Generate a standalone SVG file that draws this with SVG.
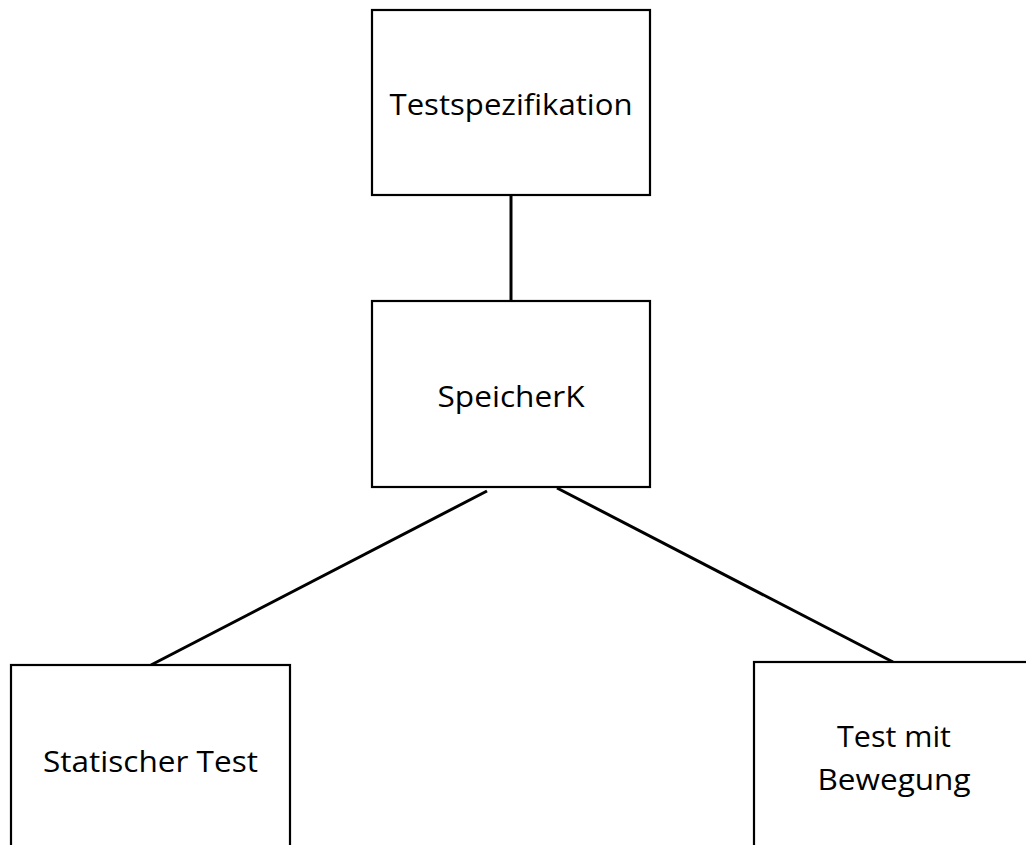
<svg xmlns="http://www.w3.org/2000/svg" width="1026" height="845" viewBox="0 0 1026 845">
  <style>
    .box { fill: #ffffff; stroke: #000000; stroke-width: 2.2; }
    .edge { stroke: #000000; stroke-width: 3; fill: none; }
    .label { font-family: "Open Sans", "Noto Sans", sans-serif; font-size: 30px; fill: #000000; text-anchor: middle; }
  </style>
  <rect x="0" y="0" width="1026" height="845" fill="#ffffff"/>

  <!-- connectors -->
  <g id="connectors">
    <line class="edge" x1="511" y1="196" x2="511" y2="301"/>
    <line class="edge" x1="487" y1="491" x2="151" y2="665"/>
    <line class="edge" x1="557" y1="488" x2="893" y2="662"/>
  </g>

  <g id="node-testspezifikation">
    <rect class="box" x="372" y="10" width="278" height="185"/>
    <text class="label" x="511" y="115" textLength="243" lengthAdjust="spacingAndGlyphs">Testspezifikation</text>
  </g>

  <g id="node-speicherk">
    <rect class="box" x="372" y="301" width="278" height="186"/>
    <text class="label" x="511" y="407" textLength="147" lengthAdjust="spacingAndGlyphs">SpeicherK</text>
  </g>

  <g id="node-statisch">
    <rect class="box" x="11" y="665" width="279" height="200"/>
    <text class="label" x="150.5" y="772" textLength="215" lengthAdjust="spacingAndGlyphs">Statischer Test</text>
  </g>

  <g id="node-bewegung">
    <rect class="box" x="754" y="662" width="300" height="200"/>
    <text class="label" x="894" y="747" textLength="114" lengthAdjust="spacingAndGlyphs">Test mit</text>
    <text class="label" x="894" y="790" textLength="153" lengthAdjust="spacingAndGlyphs">Bewegung</text>
  </g>
</svg>
